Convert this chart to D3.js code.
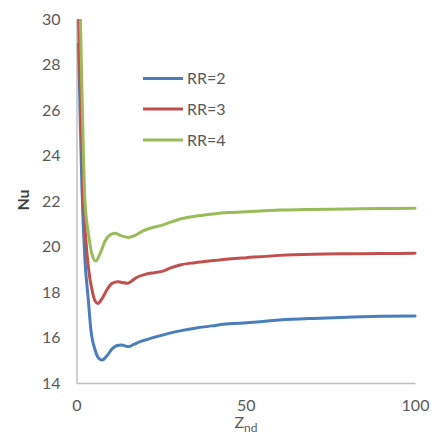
<!DOCTYPE html>
<html>
<head>
<meta charset="utf-8">
<script src="https://cdn.jsdelivr.net/npm/d3@7"></script>
<style>
html,body{margin:0;padding:0;background:#fff;}
svg{display:block;}
text{font-family:Lato,"Open Sans",sans-serif;}
</style>
</head>
<body>
<svg id="chart" width="432" height="437"></svg>
<script>
const seriesNames = ["RR=2", "RR=3", "RR=4"];
const seriesColors = ["#4A7EBB", "#C0504D", "#9BBB59"];

const zRR2 = [0.6, 1.1, 1.6, 2.5, 3.5, 4.2, 5.5, 6.5, 7.6, 9, 10.5, 12, 13.3, 15.3, 17, 18.8, 21, 23.7, 27, 30.6, 35, 40.4, 45, 50.3, 60, 70, 80, 90, 100];
const nuRR2 = [28.9, 25.6, 22.6, 19.4, 17.65, 16.4, 15.45, 15.1, 15.01, 15.2, 15.5, 15.65, 15.67, 15.6, 15.7, 15.82, 15.92, 16.04, 16.17, 16.29, 16.41, 16.52, 16.6, 16.65, 16.77, 16.84, 16.89, 16.93, 16.95];

const zRR3 = [0.5, 0.9, 1.4, 1.9, 2.6, 3.5, 4.8, 5.5, 6.3, 7.5, 9, 10.5, 12.3, 13.5, 15, 16, 17.5, 20.7, 23, 25.6, 28, 30.6, 35, 40.4, 45, 50.3, 60, 70, 80, 90, 100];
const nuRR3 = [31, 28, 25.6, 22.6, 20.6, 19.1, 17.94, 17.6, 17.5, 17.7, 18.1, 18.38, 18.45, 18.42, 18.38, 18.45, 18.62, 18.79, 18.85, 18.92, 19.07, 19.19, 19.29, 19.38, 19.45, 19.51, 19.61, 19.66, 19.68, 19.69, 19.7];

const zRR4 = [1.0, 1.3, 2.5, 3.5, 4.5, 5.7, 7, 8.5, 10, 11.4, 13, 15.3, 17.5, 19.5, 21.7, 25.6, 28, 30.6, 35, 40.4, 45, 50.3, 60, 70, 80, 90, 100];
const nuRR4 = [31, 29, 22.0, 20.6, 19.7, 19.36, 19.7, 20.25, 20.52, 20.58, 20.48, 20.4, 20.5, 20.68, 20.8, 20.95, 21.08, 21.21, 21.33, 21.43, 21.49, 21.53, 21.6, 21.63, 21.65, 21.67, 21.68];

const xTicks = [0, 50, 100];
const yTicks = [14, 16, 18, 20, 22, 24, 26, 28, 30];

const series = [
  {name: seriesNames[0], color: seriesColors[0], z: zRR2, nu: nuRR2},
  {name: seriesNames[1], color: seriesColors[1], z: zRR3, nu: nuRR3},
  {name: seriesNames[2], color: seriesColors[2], z: zRR4, nu: nuRR4}
];

const svg = d3.select("#chart");
const pLeft = 76.5, pRight = 415, pTop = 19, pBottom = 383;

const x = d3.scaleLinear().domain([0, 100]).range([pLeft, pRight]);
const y = d3.scaleLinear().domain([14, 30]).range([pBottom, pTop]);

svg.append("defs").append("clipPath").attr("id", "clip")
  .append("rect").attr("x", pLeft - 2).attr("y", pTop).attr("width", pRight - pLeft + 4).attr("height", pBottom - pTop);

// axes
const xAxis = svg.append("g").attr("transform", `translate(0,${pBottom})`)
  .call(d3.axisBottom(x).tickValues(xTicks).tickSize(0).tickPadding(17).tickFormat(d3.format("d")));
const yAxis = svg.append("g").attr("transform", `translate(${pLeft},0)`)
  .call(d3.axisLeft(y).tickValues(yTicks).tickSize(0).tickPadding(16).tickFormat(d3.format("d")));
[xAxis, yAxis].forEach(g => {
  g.select(".domain").attr("stroke", "#BFBFBF").attr("stroke-width", 1.5);
  g.selectAll("text").attr("fill", "#595959").style("font-size", "16px").style("font-family", "Lato, 'Open Sans', sans-serif");
});

// lines
const line = d3.line().x(d => x(d[0])).y(d => y(d[1])).curve(d3.curveMonotoneX);
const plot = svg.append("g").attr("clip-path", "url(#clip)");
series.forEach(s => {
  plot.append("path")
    .datum(s.z.map((z, i) => [z, s.nu[i]]))
    .attr("fill", "none")
    .attr("stroke", s.color)
    .attr("stroke-width", 3)
    .attr("stroke-linejoin", "round")
    .attr("stroke-linecap", "round")
    .attr("d", line);
});

// legend
const legendY = [78.5, 109, 140];
series.forEach((s, i) => {
  const g = svg.append("g");
  g.append("line").attr("x1", 143).attr("x2", 183).attr("y1", legendY[i]).attr("y2", legendY[i])
    .attr("stroke", s.color).attr("stroke-width", 3);
  g.append("text").attr("x", 187).attr("y", legendY[i]).attr("dy", "0.36em")
    .attr("fill", "#595959").style("font-size", "16px").text(s.name);
});

// axis titles
svg.append("text")
  .attr("transform", "translate(29,200) rotate(-90)")
  .attr("text-anchor", "middle")
  .attr("fill", "#404040").style("font-size", "16px").style("font-weight", "bold")
  .text("Nu");

const zt = svg.append("text").attr("x", 246).attr("y", 428).attr("text-anchor", "middle")
  .attr("fill", "#595959").style("font-size", "16px");
zt.append("tspan").text("Z");
zt.append("tspan").attr("dy", 4).style("font-size", "12px").text("nd");
</script>
</body>
</html>
